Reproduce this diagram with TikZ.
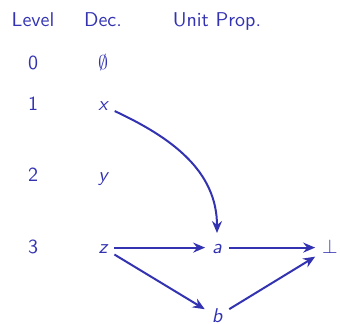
\documentclass[tikz,border=0pt]{standalone}
\usetikzlibrary{arrows.meta}
\definecolor{struct}{RGB}{51,51,178}
\begin{document}
\begin{tikzpicture}[x=0.5pt,y=0.5pt,
  every node/.style={text=struct, font=\sffamily},
  hdr/.style={anchor=base},
  cell/.style={anchor=base, text height=1.5ex, text depth=0.25ex},
  arr/.style={draw=struct, line width=1pt, -{Stealth[length=6pt,width=5pt,inset=2pt]}}]
\useasboundingbox (0,0) rectangle (340,-324);
\node[hdr] (hl) at (33,-27) {Level};
\node[hdr] (hd) at (103,-27) {Dec.};
\node[hdr] (hu) at (217,-27) {Unit Prop.};
\node[cell] (l0) at (33,-70) {0};
\node[cell] (l1) at (33,-111) {1};
\node[cell] (l2) at (33,-182) {2};
\node[cell] (l3) at (33,-253) {3};
\node[cell] (d0) at (103,-70) {$\emptyset$};
\node[cell] (x) at (103,-111) {\itshape x};
\node[cell] (y) at (103,-182) {\itshape y};
\node[cell] (z) at (103,-253) {\itshape z};
\node[cell] (a) at (217,-253) {\itshape a};
\node[cell] (bot) at (330,-253) {$\bot$};
\node[cell] (b) at (217,-322) {\itshape b};
\draw[arr] (x) to[out=-25,in=90] (a);
\draw[arr] (z) -- (a);
\draw[arr] (a) -- (bot);
\draw[arr] (z) -- (b);
\draw[arr] (b) -- (bot);
\end{tikzpicture}
\end{document}
